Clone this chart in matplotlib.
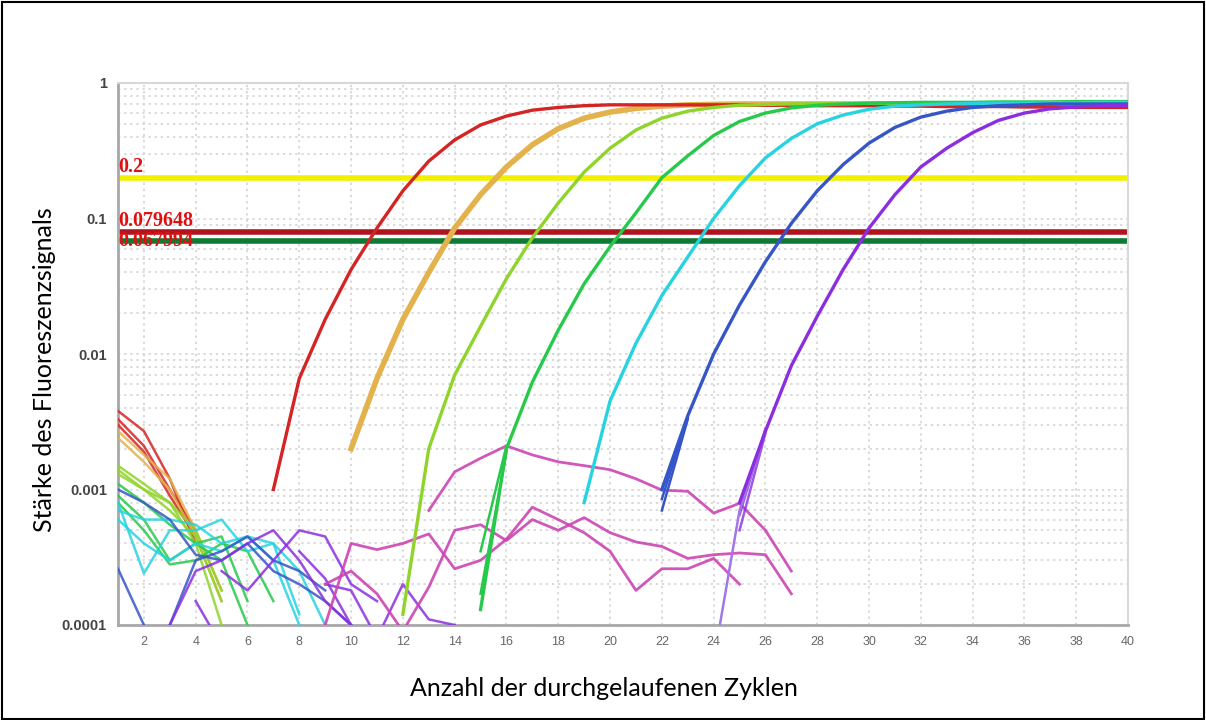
import matplotlib
matplotlib.use("Agg")
import matplotlib.pyplot as plt
from matplotlib import font_manager
from matplotlib.patches import Rectangle
from matplotlib.ticker import LogLocator, NullFormatter, FixedLocator
import numpy as np

# --- amplification curves (value per cycle, starting at *_start) ---
red_start = 7
red_vals = [0.001, 0.0066, 0.018, 0.042, 0.085, 0.16, 0.265, 0.38, 0.49, 0.57, 0.63, 0.66, 0.68,
            0.69, 0.69, 0.69, 0.69, 0.69, 0.69, 0.685, 0.685, 0.68, 0.68, 0.68, 0.675, 0.675,
            0.67, 0.67, 0.67, 0.665, 0.665, 0.66, 0.66, 0.66]
orange_start = 10
orange_vals = [0.002, 0.0066, 0.018, 0.04, 0.085, 0.15, 0.24, 0.35, 0.46, 0.55, 0.61, 0.65, 0.675,
               0.69, 0.695, 0.70, 0.70, 0.70, 0.70, 0.70, 0.70, 0.70, 0.70, 0.70, 0.70, 0.695,
               0.695, 0.695, 0.69, 0.69, 0.69]
lime_start = 12
lime_vals = [0.00012, 0.002, 0.007, 0.016, 0.036, 0.072, 0.13, 0.22, 0.33, 0.45, 0.55, 0.62, 0.66,
             0.685, 0.695, 0.70, 0.705, 0.705, 0.71, 0.71, 0.71, 0.71, 0.71, 0.71, 0.71, 0.71,
             0.71, 0.71, 0.71]
green_start = 15
green_vals = [0.00013, 0.002, 0.0062, 0.015, 0.033, 0.062, 0.11, 0.2, 0.29, 0.41, 0.52, 0.60,
              0.655, 0.685, 0.70, 0.71, 0.715, 0.72, 0.72, 0.72, 0.725, 0.725, 0.725, 0.73,
              0.73, 0.73]
cyan_start = 19
cyan_vals = [0.0008, 0.0045, 0.012, 0.027, 0.052, 0.1, 0.175, 0.28, 0.39, 0.5, 0.58, 0.64, 0.675,
             0.69, 0.70, 0.705, 0.71, 0.71, 0.715, 0.715, 0.72, 0.72]
blue_start = 22
blue_vals = [0.001, 0.0035, 0.01, 0.023, 0.048, 0.092, 0.16, 0.25, 0.36, 0.47, 0.56, 0.62,
             0.66, 0.68, 0.69, 0.70, 0.70, 0.70, 0.70]
purple_start = 25
purple_vals = [0.0008, 0.0027, 0.0082, 0.019, 0.042, 0.085, 0.15, 0.24, 0.33, 0.43, 0.53, 0.60,
               0.645, 0.665, 0.68, 0.685]

# replicate starts that join the main curves
green_reps = [(15, [0.00017, 0.0019]), (15, [0.00035, 0.0021])]
blue_reps = [(22, [0.0007, 0.0033]), (22, [0.00085, 0.0034])]
purple_reps = [(25, [0.0005, 0.0026]), (25, [0.00065, 0.0028])]
purple_light_rep = (24, [0.000054, 0.0007, 0.0027])

# --- baseline noise (start cycle, values) ---
noise_red = [(1, [0.0038, 0.0027, 0.0012, 0.0004]),
             (1, [0.0033, 0.0021, 0.0010, 0.0005]),
             (1, [0.0030, 0.0019, 0.0009, 0.00045])]
noise_orange = [(1, [0.0027, 0.0018, 0.0012, 0.0005, 0.00018]),
                (1, [0.0024, 0.0016, 0.0010, 0.00045, 0.00015])]
noise_lime = [(1, [0.0015, 0.0011, 0.0008, 0.0004, 0.0001]),
              (1, [0.0014, 0.0010, 0.0007, 0.00045, 0.00015]),
              (1, [0.0013, 0.0010, 0.0008, 0.0005, 0.00018])]
noise_green = [(1, [0.0011, 0.0008, 0.00055, 0.0004, 0.0003, 0.0001]),
               (1, [0.0009, 0.0006, 0.0003, 0.0004, 0.00045, 0.00015]),
               (1, [0.0008, 0.0005, 0.00028, 0.0003, 0.0004, 0.00035, 0.00015])]
noise_cyan = [(1, [0.0008, 0.00024, 0.0005, 0.0005, 0.0006, 0.00035, 0.0004, 0.00012]),
              (1, [0.0007, 0.0006, 0.0006, 0.00055, 0.0004, 0.00045, 0.0003, 0.0001]),
              (1, [0.0006, 0.0004, 0.0003, 0.0004, 0.00035, 0.00045, 0.0004, 0.00025, 0.0001])]
noise_blue = [(1, [0.001, 0.0008, 0.0006, 0.00033, 0.0003, 0.0004, 0.00025, 0.0002, 0.00015, 0.0001]),
              (1, [0.00026, 0.0001]),
              (3, [0.0001, 0.0003, 0.00035, 0.00045, 0.0003, 0.00025, 0.00018])]
noise_purple = [(3, [0.0001, 0.00025, 0.0003, 0.0004, 0.0005, 0.0003, 0.00015, 0.0001]),
                (4, [0.00015, 0.00007]),
                (5, [0.00025, 0.00018, 0.0003, 0.0005, 0.00045, 0.0002, 0.00015]),
                (9, [0.0002, 0.00018, 0.00008, 0.0002, 0.00011, 0.0001]),
                (8, [0.00035, 0.00022, 0.0001])]
noise_magenta = [(9, [0.0001, 0.0004, 0.00036, 0.0004, 0.00047, 0.00026, 0.0003, 0.00043, 0.00074,
                      0.0006, 0.00048, 0.00035, 0.00018, 0.00026, 0.00026, 0.00031, 0.0002]),
                 (9, [0.0002, 0.00025, 0.00017, 0.00009, 0.00019, 0.0005, 0.00055, 0.00042, 0.0006,
                      0.0005, 0.00062, 0.00048, 0.00041, 0.00038, 0.00031, 0.00033, 0.00034,
                      0.00033, 0.00017]),
                 (13, [0.0007, 0.00135, 0.0017, 0.0021, 0.0018, 0.0016, 0.0015, 0.0014, 0.0012,
                       0.00099, 0.00097, 0.00067, 0.00079, 0.0005, 0.00025])]

thresholds = [0.2, 0.079648, 0.067994]
threshold_labels = ["0.2", "0.079648", "0.067994"]
threshold_colors = ["#f2f000", "#b0141e", "#0f7a35"]

y_ticks = [1, 0.1, 0.01, 0.001, 0.0001]
y_ticklabels = ["1", "0.1", "0.01", "0.001", "0.0001"]
x_ticks = list(range(2, 41, 2))

C_RED = "#d42424"
C_ORANGE = "#e3b24c"
C_LIME = "#8fd42a"
C_GREEN = "#27c94b"
C_CYAN = "#27d3e0"
C_BLUE = "#3656c8"
C_PURPLE = "#8a2ee0"
C_MAGENTA = "#cc45b4"

names = {f.name for f in font_manager.fontManager.ttflist}
narrow = "Liberation Sans Narrow" if "Liberation Sans Narrow" in names else "Liberation Sans"

fig = plt.figure(figsize=(12.06, 7.2), dpi=100)
ax = fig.add_axes([118 / 1206, 1 - 625 / 720, (1128 - 118) / 1206, (625 - 83) / 720])

ax.set_yscale("log")
ax.set_xlim(1, 40)
ax.set_ylim(0.0001, 1)

# grid
ax.yaxis.set_major_locator(FixedLocator(y_ticks))
ax.yaxis.set_minor_locator(LogLocator(base=10, subs=np.arange(2, 10)))
ax.yaxis.set_minor_formatter(NullFormatter())
ax.set_yticklabels(y_ticklabels)
ax.set_xticks(x_ticks)
ax.grid(True, which="both", axis="y", color="#d0d0d0", linestyle=(0, (1.5, 2.5)), linewidth=1.1)
ax.grid(True, which="major", axis="x", color="#d0d0d0", linestyle=(0, (1.5, 2.5)), linewidth=1.1)
ax.set_axisbelow(True)

def draw(start, vals, color, lw, alpha=1.0):
    xs = np.arange(start, start + len(vals))
    ax.plot(xs, vals, color=color, lw=lw, alpha=alpha, solid_joinstyle="round", zorder=3)

# noise lines
for group, col in [(noise_red, C_RED), (noise_orange, C_ORANGE), (noise_lime, C_LIME),
                   (noise_green, C_GREEN), (noise_cyan, C_CYAN), (noise_blue, C_BLUE),
                   (noise_purple, C_PURPLE)]:
    for start, vals in group:
        draw(start, vals, col, 1.8, 0.85)
for start, vals in noise_magenta:
    draw(start, vals, C_MAGENTA, 2.0, 0.9)

# thresholds
for t, col in zip(thresholds, threshold_colors):
    ax.axhline(t, color=col, lw=4.0, zorder=2)

# replicate starts
for start, vals in green_reps:
    draw(start, vals, C_GREEN, 1.8)
for start, vals in blue_reps:
    draw(start, vals, C_BLUE, 1.8)
for start, vals in purple_reps:
    draw(start, vals, C_PURPLE, 1.8, 0.8)
draw(purple_light_rep[0], purple_light_rep[1], "#a276e6", 1.8)

# amplification curves
draw(orange_start, orange_vals, C_ORANGE, 4.0)
for start, vals, col in [(red_start, red_vals, C_RED), (lime_start, lime_vals, C_LIME),
                         (green_start, green_vals, C_GREEN), (cyan_start, cyan_vals, C_CYAN),
                         (blue_start, blue_vals, C_BLUE), (purple_start, purple_vals, C_PURPLE)]:
    draw(start, vals, col, 2.4)

# threshold labels
for t, lab in zip(thresholds, threshold_labels):
    ax.text(1.0, t * 1.01, lab, color="#e01010", fontsize=14.5, fontweight="bold",
            family="Liberation Serif", ha="left", va="bottom" if t != 0.067994 else "center",
            zorder=5)

# axes styling
for side in ["left", "bottom"]:
    ax.spines[side].set_color("#a8a8a8")
    ax.spines[side].set_linewidth(2)
for side in ["top", "right"]:
    ax.spines[side].set_color("#d8d8d8")
    ax.spines[side].set_linewidth(1.5)
ax.tick_params(axis="both", which="both", length=0)
ax.tick_params(axis="y", pad=8)
ax.tick_params(axis="x", pad=8)
for lab in ax.get_yticklabels():
    lab.set_fontsize(10.5)
    lab.set_fontweight("bold")
    lab.set_color("#444444")
    lab.set_family("Liberation Sans")
for lab in ax.get_xticklabels():
    lab.set_fontsize(9)
    lab.set_color("#666666")
    lab.set_family(narrow)

fig.text(0.5008, 1 - 688 / 720, "Anzahl der durchgelaufenen Zyklen", fontsize=18,
         family="Lato", ha="center", va="center")
fig.text(45 / 1206, 1 - 370 / 720, "Stärke des Fluoreszenzsignals", fontsize=18,
         family="Lato", ha="center", va="center", rotation=90)

fig.patches.append(Rectangle((0.002, 0.002), 0.996, 0.995, transform=fig.transFigure,
                             fill=False, edgecolor="black", linewidth=1.5))

fig.savefig("out.png", dpi=100)
